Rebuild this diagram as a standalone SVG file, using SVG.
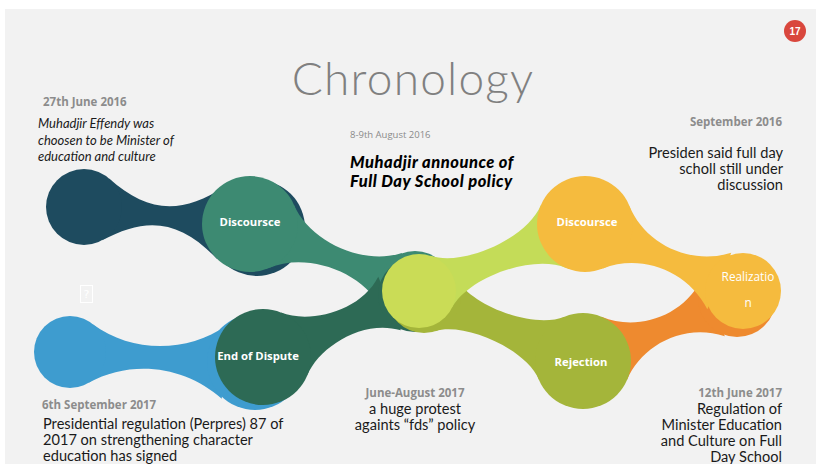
<svg xmlns="http://www.w3.org/2000/svg" width="816" height="464" viewBox="0 0 816 464">
<style>
.date{font-family:"Open Sans","Liberation Sans",sans-serif;font-weight:700;font-size:11.5px;fill:#8c8c8c}
.body{font-family:Lato,"Liberation Sans",sans-serif;font-size:14.6px;fill:#1a1a1a}
.ital{font-family:Lato,"Liberation Sans",sans-serif;font-style:italic;font-size:13px;fill:#1a1a1a}
.lbl{font-family:"Open Sans","Liberation Sans",sans-serif;font-weight:700;font-size:11.3px;fill:#ffffff;text-anchor:middle}
.lblr{font-family:"Open Sans","Liberation Sans",sans-serif;font-size:11.8px;fill:#ffffff;text-anchor:middle}
.bi{font-family:Lato,"Liberation Sans",sans-serif;font-weight:900;font-style:italic;font-size:16.5px;letter-spacing:0.5px;fill:#000000}
.r{text-anchor:end}
.m{text-anchor:middle}
</style>
<rect x="0" y="0" width="816" height="464" fill="#ffffff"/>
<rect x="5" y="9" width="811" height="455" fill="#f2f2f2"/>

<g id="connectors">
  <!-- dark teal -->
  <path fill="#1e4b5f" transform="translate(84,207) rotate(6.45)" d="M21.8,-31.1 C62.8,-2.4 96.3,-1.6 138.2,-36.8 L138.2,36.8 C96.3,1.6 62.8,2.4 21.8,31.1 Z"/>
  <circle cx="84" cy="207" r="38" fill="#1e4b5f"/>
  <circle cx="257" cy="228" r="48" fill="#1e4b5f"/>
  <!-- teal -->
  <path fill="#3d8a72" transform="translate(250,224) rotate(21.6)" d="M33.9,-33.9 C62.2,-5.6 120.6,-2.7 152,-29.1 L152,29.1 C120.6,2.7 62.2,5.6 33.9,33.9 Z"/>
  <circle cx="415" cy="288" r="37" fill="#3d8a72"/>
  <!-- blue -->
  <path fill="#3e9ccf" transform="translate(70,352) rotate(3.75)" d="M20.6,-29.5 C62.8,-2.4 117,-7 154.5,-36.8 L154.5,36.8 C117,7 62.8,2.4 20.6,29.5 Z"/>
  <circle cx="70" cy="352" r="36" fill="#3e9ccf"/>
  <circle cx="255" cy="362" r="48" fill="#3e9ccf"/>
  <!-- dark green -->
  <path fill="#2d6a55" transform="translate(263,357) rotate(-22.9)" d="M33.9,-33.9 C55.1,-12.7 107.1,-3.6 137.4,-29.1 L137.4,29.1 C107.1,3.6 55.1,12.7 33.9,33.9 Z"/>
  <circle cx="415" cy="295" r="37" fill="#2d6a55"/>
  <!-- orange -->
  <path fill="#ee8a2f" transform="translate(583,361) rotate(-22.2)" d="M33.9,-33.9 C58.6,-9.2 105.8,-1.3 140.7,-30.6 L140.7,30.6 C105.8,1.3 58.6,9.2 33.9,33.9 Z"/>
  <circle cx="737" cy="298" r="39" fill="#ee8a2f"/>
  <!-- olive -->
  <path fill="#a4b53a" transform="translate(424,296) rotate(22.2)" d="M23.8,-28.3 C46.8,-9 114.3,-10.3 137.9,-33.9 L137.9,33.9 C114.3,10.3 46.8,9 23.8,28.3 Z"/>
  <circle cx="424" cy="296" r="37" fill="#a4b53a"/>
  <!-- light lime -->
  <path fill="#c4dc58" transform="translate(419,291) rotate(-22)" d="M23.8,-28.3 C50.6,-5.8 119.4,-8.2 145.1,-33.9 L145.1,33.9 C119.4,8.2 50.6,5.8 23.8,28.3 Z"/>
  <!-- yellow -->
  <path fill="#f5bb3e" transform="translate(585,224) rotate(23)" d="M33.9,-33.9 C62.2,-5.6 112,-2.2 145.9,-30.6 L145.9,30.6 C112,2.2 62.2,5.6 33.9,33.9 Z"/>
</g>

<g id="node-discourse-1">
  <circle cx="250" cy="224" r="48" fill="#3d8a72"/>
  <text class="lbl" x="250" y="226">Discoursce</text>
</g>
<g id="node-end-of-dispute">
  <circle cx="263" cy="357" r="48" fill="#2d6a55"/>
  <text class="lbl" x="258" y="360">End of Dispute</text>
</g>
<g id="node-rejection">
  <circle cx="583" cy="361" r="48" fill="#a4b53a"/>
  <text class="lbl" x="581" y="366">Rejection</text>
</g>
<g id="node-discourse-2">
  <circle cx="585" cy="224" r="48" fill="#f5bb3e"/>
  <text class="lbl" x="587" y="226">Discoursce</text>
</g>
<g id="node-realization">
  <circle cx="743" cy="291" r="38" fill="#f5bb3e"/>
  <text class="lblr" x="748" y="281">Realizatio</text>
  <text class="lblr" x="748" y="307">n</text>
</g>
<g id="node-center">
  <circle cx="419" cy="291" r="37" fill="#cadc56"/>
</g>

<g id="title">
  <text x="413" y="95" font-family="Lato,'Liberation Sans',sans-serif" font-weight="300" font-size="46" letter-spacing="1.2" fill="#808080" text-anchor="middle">Chronology</text>
</g>

<g id="badge">
  <circle cx="795" cy="31" r="11" fill="#d9473d"/>
  <text x="795" y="35" font-family="'Liberation Sans',sans-serif" font-size="10" font-weight="700" fill="#ffffff" text-anchor="middle">17</text>
</g>

<g id="icon">
  <rect x="80.5" y="285.5" width="12" height="17" fill="none" stroke="#ffffff" stroke-width="1"/>
  <text x="86.5" y="298" font-family="'DejaVu Sans',sans-serif" font-size="11" fill="#ffffff" text-anchor="middle">?</text>
</g>

<g id="event-1">
  <text class="date" x="43" y="106">27th June 2016</text>
  <text class="ital" x="38" y="128">Muhadjir Effendy was</text>
  <text class="ital" x="38" y="145">choosen to be Minister of</text>
  <text class="ital" x="38" y="161">education and culture</text>
</g>
<g id="event-2">
  <text x="350" y="138" font-family="'Open Sans','Liberation Sans',sans-serif" font-size="9.5" fill="#8a8a8a">8-9th August 2016</text>
  <text class="bi" x="350" y="168">Muhadjir announce of</text>
  <text class="bi" x="350" y="187">Full Day School policy</text>
</g>
<g id="event-3">
  <text class="date r" x="782" y="126">September 2016</text>
  <text class="body r" x="783" y="158">Presiden said full day</text>
  <text class="body r" x="783" y="174">scholl still under</text>
  <text class="body r" x="783" y="190">discussion</text>
</g>
<g id="event-4">
  <text class="date" x="42" y="409">6th September 2017</text>
  <text class="body" x="43" y="429">Presidential regulation (Perpres) 87 of</text>
  <text class="body" x="43" y="445">2017 on strengthening character</text>
  <text class="body" x="43" y="461">education has signed</text>
</g>
<g id="event-5">
  <text class="date m" x="415" y="397">June-August 2017</text>
  <text class="body m" x="415" y="414">a huge protest</text>
  <text class="body m" x="415" y="430">againts “fds” policy</text>
</g>
<g id="event-6">
  <text class="date r" x="782" y="397">12th June 2017</text>
  <text class="body r" x="782" y="414">Regulation of</text>
  <text class="body r" x="782" y="430">Minister Education</text>
  <text class="body r" x="782" y="446">and Culture on Full</text>
  <text class="body r" x="782" y="462">Day School</text>
</g>
</svg>
